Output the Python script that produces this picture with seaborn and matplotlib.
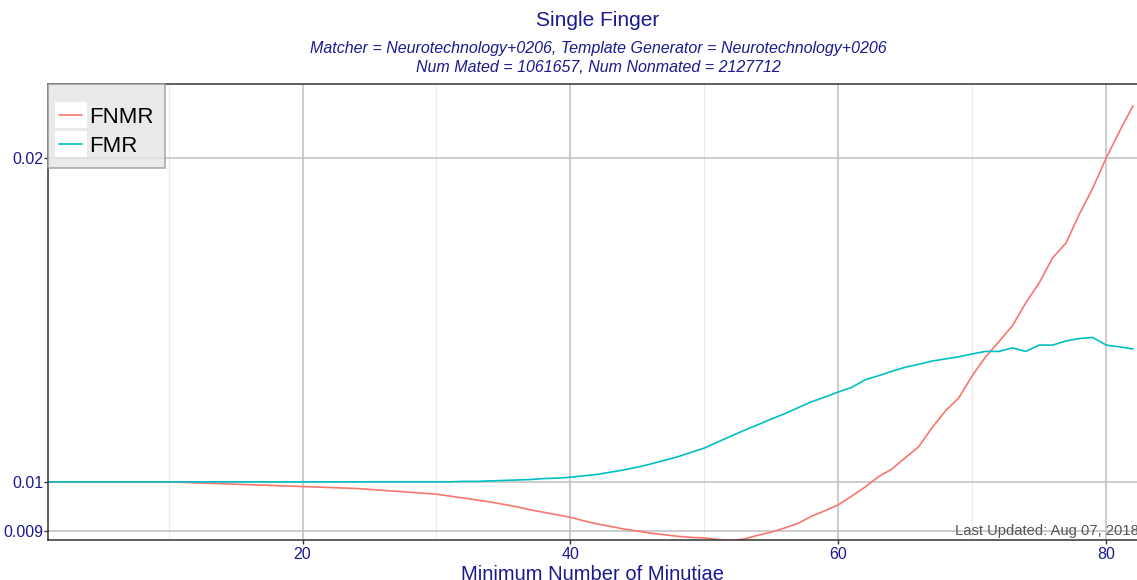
import numpy as np
import pandas as pd
import matplotlib
matplotlib.use('Agg')
import matplotlib.pyplot as plt
import matplotlib.ticker as mticker
from matplotlib.lines import Line2D
from matplotlib.patches import Rectangle
from matplotlib.legend_handler import HandlerLine2D
import seaborn as sns

# Minimum number of minutiae (x axis)
minutiae = list(range(1, 83))

# False non-match rate
fnmr = [0.01000, 0.01000, 0.01000, 0.01000, 0.01000, 0.01000, 0.01000, 0.01000, 0.01000, 0.01000,
        0.00999, 0.00998, 0.00997, 0.00996, 0.00995, 0.00994, 0.00993, 0.00992, 0.00991, 0.00990,
        0.00989, 0.00988, 0.00987, 0.00986, 0.00984, 0.00982, 0.00980, 0.00978, 0.00976, 0.00974,
        0.00970, 0.00966, 0.00962, 0.00958, 0.00953, 0.00948, 0.00942, 0.00937, 0.00932, 0.00927,
        0.00920, 0.00914, 0.00909, 0.00904, 0.00900, 0.00896, 0.00893, 0.00890, 0.00888, 0.00887,
        0.00884, 0.00882, 0.00885, 0.00892, 0.00898, 0.00906, 0.00915, 0.00929, 0.00940, 0.00952,
        0.00970, 0.00989, 0.01011, 0.01028, 0.01053, 0.01078, 0.01123, 0.01164, 0.01197, 0.01255,
        0.01307, 0.01350, 0.01397, 0.01467, 0.01531, 0.01615, 0.01667, 0.01774, 0.01875, 0.02000,
        0.02118, 0.02236]

# False match rate
fmr = [0.01000, 0.01000, 0.01000, 0.01000, 0.01000, 0.01000, 0.01000, 0.01000, 0.01000, 0.01000,
       0.01000, 0.01000, 0.01000, 0.01000, 0.01000, 0.01000, 0.01000, 0.01000, 0.01000, 0.01000,
       0.01000, 0.01000, 0.01000, 0.01000, 0.01000, 0.01000, 0.01000, 0.01000, 0.01000, 0.01000,
       0.01000, 0.01001, 0.01001, 0.01002, 0.01003, 0.01004, 0.01005, 0.01007, 0.01008, 0.01010,
       0.01013, 0.01016, 0.01021, 0.01026, 0.01032, 0.01039, 0.01047, 0.01055, 0.01065, 0.01075,
       0.01089, 0.01103, 0.01117, 0.01130, 0.01144, 0.01157, 0.01172, 0.01187, 0.01199, 0.01212,
       0.01224, 0.01244, 0.01255, 0.01267, 0.01278, 0.01286, 0.01295, 0.01301, 0.01307, 0.01315,
       0.01322, 0.01322, 0.01332, 0.01322, 0.01340, 0.01340, 0.01352, 0.01359, 0.01362, 0.01340,
       0.01335, 0.01329]

series_names = ['FNMR', 'FMR']
series_colors = ['#F8766D', '#00BFC4']
y_ticks = [0.009, 0.01, 0.02]
y_tick_labels = ['0.009', '0.01', '0.02']

df = pd.DataFrame({
    'minutiae': minutiae * 2,
    'rate': fnmr + fmr,
    'type': ['FNMR'] * len(minutiae) + ['FMR'] * len(minutiae),
})

sns.set_theme(style='white')
plt.rcParams['font.family'] = ['Liberation Sans', 'DejaVu Sans']
navy = '#1a1a8f'


class KeyHandler(HandlerLine2D):
    # line key drawn on a white background, like ggplot legend keys
    def create_artists(self, legend, orig_handle, xdescent, ydescent,
                       width, height, fontsize, trans):
        artists = super().create_artists(legend, orig_handle, xdescent, ydescent,
                                         width, height, fontsize, trans)
        pad = legend.labelspacing * fontsize / 2 + 1
        bg = Rectangle((-xdescent - 3, -ydescent - pad), width + 6, height + 2 * pad,
                       facecolor='white', edgecolor='none', transform=trans)
        return [bg] + list(artists)


fig = plt.figure(figsize=(11.37, 5.8), dpi=100)
ax = fig.add_axes([48 / 1137, 40 / 580, 1089 / 1137, 456 / 580])

sns.lineplot(data=df, x='minutiae', y='rate', hue='type', hue_order=series_names,
             palette=series_colors, linewidth=1.2, ax=ax)

ax.set_yscale('log')
ax.set_xlim(1, 82.3)
ax.set_ylim(0.00883, 0.02343)
ax.yaxis.set_major_locator(mticker.FixedLocator(y_ticks))
ax.yaxis.set_major_formatter(mticker.FixedFormatter(y_tick_labels))
ax.yaxis.set_minor_locator(mticker.NullLocator())
ax.xaxis.set_major_locator(mticker.FixedLocator([20, 40, 60, 80]))
ax.xaxis.set_minor_locator(mticker.FixedLocator([10, 30, 50, 70]))

ax.grid(which='major', color='#bebebe', linewidth=1.1)
ax.grid(which='minor', axis='x', color='#ebebeb', linewidth=0.9)
ax.set_axisbelow(True)

for side in ['left', 'bottom', 'top']:
    ax.spines[side].set_color('#333333')
    ax.spines[side].set_linewidth(1.1)
ax.spines['right'].set_visible(False)

ax.tick_params(axis='both', which='major', length=3, width=1, color='#333333',
               labelcolor=navy, labelsize=11.5, pad=0.5, left=True, bottom=True)
ax.tick_params(axis='x', which='major', pad=2)
ax.tick_params(axis='x', which='minor', length=0)

ax.set_xlabel('Minimum Number of Minutiae', color=navy, fontsize=14.5, labelpad=2)
ax.set_ylabel('')

handles = [Line2D([], [], color=c, linewidth=1.2) for c in series_colors]
# tiny blank title = the empty title row ggplot leaves above the keys
leg = ax.legend(handles, series_names, loc='upper left', bbox_to_anchor=(0, 1),
                borderaxespad=0, fontsize=16, frameon=True, fancybox=False,
                handlelength=1.05, handletextpad=0.3, labelspacing=0.35,
                borderpad=0.5, title=' ', title_fontsize=3,
                handler_map={Line2D: KeyHandler()})
leg.get_frame().set_facecolor('#e5e5e5')
leg.get_frame().set_edgecolor('#9a9a9a')
leg.get_frame().set_linewidth(1.2)
for t in leg.get_texts():
    t.set_color('black')

fig.text(598 / 1137, 1 - 20 / 580, 'Single Finger', ha='center', va='center',
         color=navy, fontsize=15)
fig.text(598 / 1137, 1 - 49 / 580,
         'Matcher = Neurotechnology+0206, Template Generator = Neurotechnology+0206',
         ha='center', va='center', color=navy, fontsize=11.5, style='italic')
fig.text(598 / 1137, 1 - 67 / 580, 'Num Mated = 1061657, Num Nonmated = 2127712',
         ha='center', va='center', color=navy, fontsize=11.5, style='italic')
fig.text(1139 / 1137, 1 - 531 / 580, 'Last Updated: Aug 07, 2018', ha='right',
         va='center', color='#555555', fontsize=10.6)

fig.savefig('out.png', dpi=100)
